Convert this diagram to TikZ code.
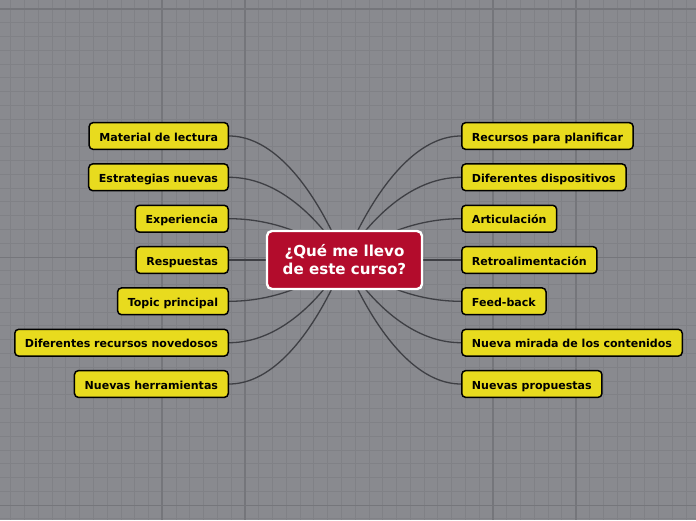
\documentclass[tikz,border=0pt]{standalone}
\usepackage{fontspec}
\setsansfont{DejaVu Sans}
\usetikzlibrary{positioning,backgrounds}
\definecolor{cCanvas} {RGB}{137,138,143}
\definecolor{cMinor}  {RGB}{128,129,134}
\definecolor{cMajor}  {RGB}{117,118,123}
\definecolor{cLink}   {RGB}{ 62, 63, 68}
\definecolor{cRoot}   {RGB}{179, 12, 44}
\definecolor{cTopic}  {RGB}{232,219, 30}

\begin{document}
\begin{tikzpicture}[
  x=1pt, y=-1pt,
  %% -- central topic ------------------------------------------------------
  R/.style={
    draw=white, fill=cRoot, line width=2.4pt, rounded corners=5pt,
    minimum width=155pt, minimum height=58pt, inner sep=2pt,
    align=center, text=white,
    font=\fontsize{15.1}{18}\selectfont\sffamily\bfseries
  },
  %% -- sub-topic box ------------------------------------------------------
  T/.style={
    draw=black, fill=cTopic, line width=1.5pt, rounded corners=4pt,
    minimum height=26.8pt, inner xsep=10.2pt, inner ysep=2pt,
    text height=10pt, text depth=0pt,
    font=\fontsize{11.05}{12}\selectfont\sffamily\bfseries
  },
  TL/.style={T, anchor=east},
  TR/.style={T, anchor=west},
  %% -- branch line --------------------------------------------------------
  L/.style={draw=cLink, line width=1.3pt},
  %% -- canvas grid --------------------------------------------------------
  G/.style={draw=cMinor, line width=0.9pt},
  GM/.style={draw=cMajor, line width=1.2pt},
]

\useasboundingbox (0,0) rectangle (696,520);

%% ======================================================================
%%  CANVAS
%% ======================================================================
\begin{scope}[on background layer]
  \fill[cCanvas] (0,0) rectangle (696,520);
  \foreach \i in {0,...,50}
    \draw[G] ({10.74+13.78*\i},0) -- ++(0,520);
  \foreach \i in {0,...,37}
    \draw[G] (0,{9+13.78*\i}) -- ++(696,0);
  \foreach \gx in {162,245,493,576}
    \draw[GM] (\gx,0) -- ++(0,520);
  \foreach \gy in {9,257.5,505.7}
    \draw[GM] (0,\gy) -- ++(696,0);
\end{scope}

%% ======================================================================
%%  CENTRAL TOPIC
%% ======================================================================
\coordinate (hub) at (344.5,260);
\node[R] (root) at (hub) {¿Qué me llevo\\de este curso?};

%% ======================================================================
%%  LEFT BRANCHES
%% ======================================================================
\node[TL] (mat)  at (229,136)   {Material de lectura};
\node[TL] (est)  at (229,177.3) {Estrategias nuevas};
\node[TL] (exp)  at (229,218.7) {Experiencia};
\node[TL] (resp) at (229,260)   {Respuestas};
\node[TL] (top)  at (229,301.3) {Topic principal};
\node[TL] (dif)  at (229,342.7) {Diferentes recursos novedosos};
\node[TL] (her)  at (229,384)   {Nuevas herramientas};

%% ======================================================================
%%  RIGHT BRANCHES
%% ======================================================================
\node[TR] (rec)  at (461,136)   {Recursos para planificar};
\node[TR] (disp) at (461,177.3) {Diferentes dispositivos};
\node[TR] (art)  at (461,218.7) {Articulación};
\node[TR] (retro)at (461,260)   {Retroalimentación};
\node[TR] (feed) at (461,301.3) {Feed-back};
\node[TR] (mir)  at (461,342.7) {Nueva mirada de los contenidos};
\node[TR] (prop) at (461,384)   {Nuevas propuestas};

%% ======================================================================
%%  BRANCH LINES  (behind the central topic)
%% ======================================================================
\begin{scope}[on background layer]
  \draw[L] (mat.east)  .. controls +(70,0) and (hub) .. (hub);
  \draw[L] (est.east)  .. controls +(70,0) and (hub) .. (hub);
  \draw[L] (exp.east)  .. controls +(70,0) and (hub) .. (hub);
  \draw[L] (resp.east) -- (hub);
  \draw[L] (top.east)  .. controls +(70,0) and (hub) .. (hub);
  \draw[L] (dif.east)  .. controls +(70,0) and (hub) .. (hub);
  \draw[L] (her.east)  .. controls +(70,0) and (hub) .. (hub);

  \draw[L] (rec.west)   .. controls +(-70,0) and (hub) .. (hub);
  \draw[L] (disp.west)  .. controls +(-70,0) and (hub) .. (hub);
  \draw[L] (art.west)   .. controls +(-70,0) and (hub) .. (hub);
  \draw[L] (retro.west) -- (hub);
  \draw[L] (feed.west)  .. controls +(-70,0) and (hub) .. (hub);
  \draw[L] (mir.west)   .. controls +(-70,0) and (hub) .. (hub);
  \draw[L] (prop.west)  .. controls +(-70,0) and (hub) .. (hub);
\end{scope}

\end{tikzpicture}
\end{document}
